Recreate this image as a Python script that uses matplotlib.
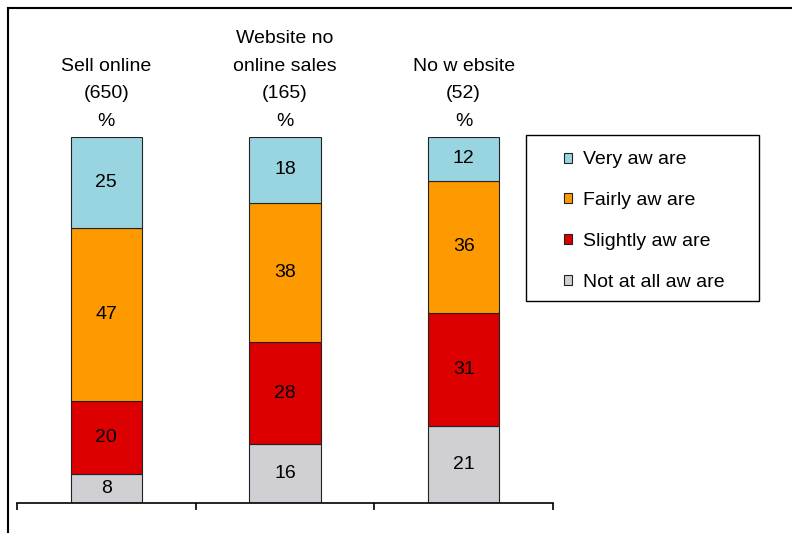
import matplotlib.pyplot as plt
from matplotlib.lines import Line2D
from matplotlib.patches import Rectangle

plt.rcParams['font.family'] = ['Liberation Sans', 'DejaVu Sans']

# Daten
groups = ["Sell online\n(650)\n%", "Website no\nonline sales\n(165)\n%", "No w ebsite\n(52)\n%"]
levels = ["Not at all aw are", "Slightly aw are", "Fairly aw are", "Very aw are"]
not_at_all = [8, 16, 21]
slightly = [20, 28, 31]
fairly = [47, 38, 36]
very = [25, 18, 12]
colors = ["#d0d0d4", "#dd0000", "#ff9900", "#99d5e0"]

series = [not_at_all, slightly, fairly, very]
fs = 14

fig = plt.figure(figsize=(7.92, 5.33), dpi=100)
W, H = 792, 533
ax = fig.add_axes([17 / W, 30 / H, 536 / W, 366 / H])

x = list(range(len(groups)))
bottom = [0] * len(groups)
handles = []
for vals, lab, col in zip(series, levels, colors):
    bars = ax.bar(x, vals, width=0.4, bottom=bottom, color=col,
                  edgecolor="#222222", linewidth=0.8, label=lab)
    handles.append(bars)
    for xi, b, v in zip(x, bottom, vals):
        ax.text(xi, b + v / 2, str(v), ha="center", va="center", fontsize=fs)
    bottom = [b + v for b, v in zip(bottom, vals)]

# Kopfzeilen über den Balken
for xi, g in zip(x, groups):
    ax.text(xi, 102, g, ha="center", va="bottom", fontsize=fs,
            linespacing=1.8, clip_on=False)

ax.set_xlim(-0.5, 2.5)
ax.set_ylim(0, 100)
for s in ["top", "right", "left"]:
    ax.spines[s].set_visible(False)
ax.spines["bottom"].set_linewidth(1.2)
ax.set_yticks([])
ax.set_xticks([-0.5, 0.5, 1.5, 2.5])
ax.set_xticklabels([])
ax.tick_params(axis="x", length=5, width=1.2, direction="out")

# Legende mit eigenem Rahmen
fig.add_artist(Rectangle((526 / W, 1 - 301 / H), (759 - 526) / W, (301 - 135) / H,
                         transform=fig.transFigure, fill=False,
                         edgecolor="black", linewidth=1))
leg = fig.legend(handles[::-1], levels[::-1], loc="upper left",
                 bbox_to_anchor=(546 / W, 1 - 134 / H), frameon=False,
                 fontsize=fs, handlelength=0.42, handleheight=0.42,
                 handletextpad=0.6, labelspacing=1.22)

# Rahmen links und oben
fig.add_artist(Line2D([8 / W, 8 / W], [0, 1 - 8 / H], transform=fig.transFigure,
                      color="black", linewidth=1.5))
fig.add_artist(Line2D([8 / W, 1], [1 - 8 / H, 1 - 8 / H], transform=fig.transFigure,
                      color="black", linewidth=1.5))

fig.savefig("out.png", dpi=100)
